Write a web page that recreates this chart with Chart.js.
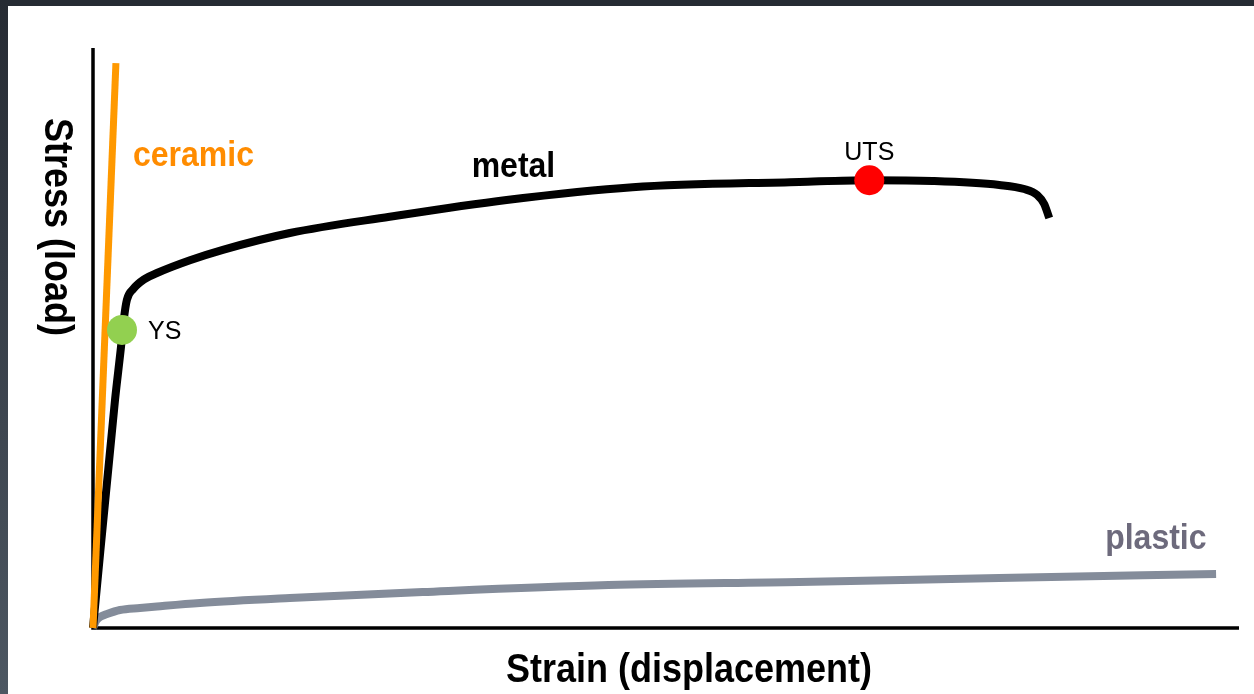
<!DOCTYPE html>
<html lang="en">
<head>
<meta charset="UTF-8">
<title>Stress vs strain</title>
<script src="https://cdn.jsdelivr.net/npm/chart.js"></script>
<style>
  html, body { margin: 0; padding: 0; background: #fff; overflow: hidden; }
  #wrap { position: relative; width: 1254px; height: 694px; }
  #topbar { position: absolute; left: 0; top: 0; width: 1254px; height: 6px; background: #262b33; }
  #leftbar { position: absolute; left: 0; top: 0; width: 8px; height: 694px; background: linear-gradient(#262b33, #4d5762); }
</style>
</head>
<body>
<div id="wrap">
  <canvas id="chart" width="1254" height="694"></canvas>
  <div id="topbar"></div>
  <div id="leftbar"></div>
</div>
<script>
  // strain / stress in arbitrary units (0-100 on both axes)
  const ceramicStrain = [0, 2.0];
  const ceramicStress = [0, 97.4];

  const metalStrain = [0, 1.92, 2.44, 2.70, 2.96, 3.49, 4.53, 5.58, 8.46, 11.33, 17.18, 25.89, 36.09, 47.08, 61.64, 67.74, 73.24, 79.08, 81.26, 82.39, 83.0, 83.44];
  const metalStress = [0, 39.3, 48.4, 53.4, 56.6, 58.4, 60.2, 61.2, 63.4, 65.2, 68.1, 70.9, 73.8, 76.0, 76.9, 77.2, 77.07, 76.38, 75.69, 74.66, 73.1, 70.69];

  const plasticStrain = [0, 0.26, 0.61, 1.22, 2.35, 4.10, 5.58, 9.33, 17.18, 28.77, 44.99, 61.64, 79.08, 98.0];
  const plasticStress = [0, 1.21, 1.90, 2.41, 3.10, 3.45, 3.71, 4.31, 5.17, 6.21, 7.41, 7.93, 8.62, 9.31];

  const ysPoint = [2.53, 51.4];
  const utsPoint = [67.74, 77.2];

  const toXY = (xs, ys) => xs.map((v, i) => ({ x: v, y: ys[i] }));

  // text labels, anchored in data units
  const boldFont = 'bold 32px "Liberation Sans", Arial, sans-serif';
  const plainFont = '25px "Liberation Sans", Arial, sans-serif';
  const labels = [
    { text: 'ceramic', x: 3.49, y: 79.66, font: boldFont, color: '#ff8c00', align: 'left', sy: 1.09 },
    { text: 'metal', x: 33.04, y: 77.76, font: boldFont, color: '#000000', align: 'left', sy: 1.09 },
    { text: 'UTS', x: 67.74, y: 80.69, font: plainFont, color: '#000000', align: 'center', sy: 1 },
    { text: 'YS', x: 4.80, y: 49.83, font: plainFont, color: '#000000', align: 'left', sy: 1 },
    { text: 'plastic', x: 88.32, y: 13.62, font: boldFont, color: '#6d6a7c', align: 'left', sy: 1.09 }
  ];

  function drawText(ctx, str, px, py, font, color, align, rot, sy) {
    ctx.save();
    ctx.translate(px, py);
    if (rot) ctx.rotate(rot);
    ctx.scale(1, sy);
    ctx.font = font;
    ctx.fillStyle = color;
    ctx.textAlign = align;
    ctx.textBaseline = 'alphabetic';
    ctx.fillText(str, 0, 0);
    ctx.restore();
  }

  const axesAndText = {
    id: 'axesAndText',
    beforeDatasetsDraw(chart) {
      const { ctx, chartArea: a, scales: { x, y } } = chart;
      const x0 = x.getPixelForValue(0), y0 = y.getPixelForValue(0);
      ctx.save();
      ctx.strokeStyle = '#000';
      ctx.lineWidth = 3.5;
      ctx.beginPath();
      ctx.moveTo(x0, a.top);
      ctx.lineTo(x0, y0);
      ctx.lineTo(a.right, y0);
      ctx.stroke();
      ctx.restore();
    },
    afterDatasetsDraw(chart) {
      const { ctx, chartArea: a, scales: { x, y } } = chart;
      labels.forEach(l => {
        drawText(ctx, l.text, x.getPixelForValue(l.x), y.getPixelForValue(l.y), l.font, l.color, l.align, 0, l.sy);
      });
      const titleFont = 'bold 36px "Liberation Sans", Arial, sans-serif';
      drawText(ctx, 'Strain (displacement)', (a.left + a.right) / 2 + 23, a.bottom + 54, titleFont, '#000', 'center', 0, 1.15);
      drawText(ctx, 'Stress (load)', a.left - 48, 227, titleFont, '#000', 'center', Math.PI / 2, 1.15);
    }
  };

  const ctx = document.getElementById('chart').getContext('2d');
  new Chart(ctx, {
    type: 'scatter',
    data: {
      datasets: [
        {
          label: 'YS',
          data: [{ x: ysPoint[0], y: ysPoint[1] }],
          backgroundColor: '#92d050',
          borderWidth: 0,
          pointRadius: 15,
          order: 0
        },
        {
          label: 'UTS',
          data: [{ x: utsPoint[0], y: utsPoint[1] }],
          backgroundColor: '#ff0000',
          borderWidth: 0,
          pointRadius: 15,
          order: 0
        },
        {
          label: 'ceramic',
          data: toXY(ceramicStrain, ceramicStress),
          showLine: true,
          borderColor: '#ff9900',
          borderWidth: 7,
          pointRadius: 0,
          tension: 0,
          order: 1
        },
        {
          label: 'metal',
          data: toXY(metalStrain, metalStress),
          showLine: true,
          borderColor: '#000000',
          borderWidth: 8,
          pointRadius: 0,
          cubicInterpolationMode: 'monotone',
          order: 2
        },
        {
          label: 'plastic',
          data: toXY(plasticStrain, plasticStress),
          showLine: true,
          borderColor: '#848c9a',
          borderWidth: 8,
          pointRadius: 0,
          cubicInterpolationMode: 'monotone',
          order: 3
        }
      ]
    },
    options: {
      responsive: false,
      animation: false,
      clip: false,
      layout: { padding: { left: 93, right: 14, top: 48, bottom: 66 } },
      plugins: { legend: { display: false }, tooltip: { enabled: false } },
      scales: {
        x: { type: 'linear', min: 0, max: 100, display: false },
        y: { type: 'linear', min: 0, max: 100, display: false }
      }
    },
    plugins: [axesAndText]
  });
</script>
</body>
</html>
